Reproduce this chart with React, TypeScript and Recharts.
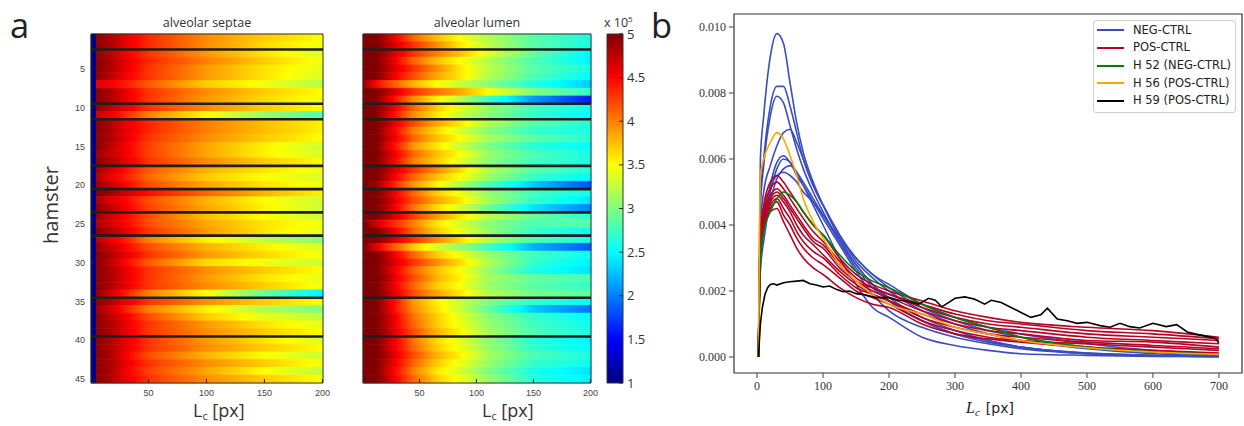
import React from 'react';
import {
  XAxis, YAxis, ReferenceLine, ReferenceArea,
  ComposedChart, Line, Legend,
} from 'recharts';

// ---------------- heatmap data (values in units of 1e5) ----------------
const LC_TICKS = [50, 100, 150, 200];
const HAMSTER_TICKS = [5, 10, 15, 20, 25, 30, 35, 40, 45];
const GROUP_BREAKS = [2.5, 9.5, 11.5, 17.5, 20.5, 23.5, 26.5, 34.5, 39.5];
const CBAR_TICKS = [1, 1.5, 2, 2.5, 3, 3.5, 4, 4.5, 5];

// first columns of the septae map (dark blue strip)
const SEPTAE_EDGE_L = [1, 4];
const SEPTAE_EDGE_VALUE = 1.0;
const SEPTAE_L = [5, 15, 30, 50, 100, 150, 200];
const SEPTAE_ROWS = [
  [4.95, 4.85, 4.6, 4.35, 3.95, 3.7, 3.5],
  [4.95, 4.85, 4.6, 4.35, 3.95, 3.65, 3.45],
  [4.95, 4.8, 4.55, 4.3, 3.9, 3.6, 3.35],
  [4.95, 4.85, 4.6, 4.35, 4.0, 3.7, 3.45],
  [4.95, 4.85, 4.6, 4.3, 3.9, 3.6, 3.4],
  [4.95, 4.8, 4.55, 4.3, 3.9, 3.6, 3.35],
  [4.6, 4.55, 4.4, 4.15, 3.7, 3.45, 3.2],
  [4.95, 4.85, 4.6, 4.3, 3.95, 3.7, 3.5],
  [4.95, 4.85, 4.6, 4.3, 3.9, 3.65, 3.45],
  [4.95, 4.8, 4.6, 4.3, 3.95, 3.7, 3.5],
  [4.7, 4.6, 4.35, 4.0, 3.5, 3.1, 2.8],
  [4.95, 4.85, 4.6, 4.35, 4.0, 3.75, 3.55],
  [4.95, 4.85, 4.6, 4.35, 4.0, 3.75, 3.55],
  [4.95, 4.85, 4.6, 4.3, 3.95, 3.7, 3.5],
  [4.95, 4.8, 4.55, 4.25, 3.85, 3.55, 3.3],
  [4.9, 4.75, 4.55, 4.25, 3.85, 3.55, 3.35],
  [4.95, 4.85, 4.6, 4.3, 3.95, 3.7, 3.5],
  [4.9, 4.7, 4.45, 4.15, 3.8, 3.6, 3.45],
  [4.8, 4.6, 4.4, 4.1, 3.7, 3.5, 3.35],
  [4.9, 4.75, 4.5, 4.2, 3.85, 3.6, 3.45],
  [5.0, 4.9, 4.7, 4.45, 4.1, 3.8, 3.55],
  [4.85, 4.65, 4.5, 4.2, 3.8, 3.5, 3.3],
  [4.95, 4.8, 4.55, 4.25, 3.85, 3.55, 3.3],
  [4.9, 4.7, 4.5, 4.2, 3.75, 3.5, 3.3],
  [4.8, 4.7, 4.5, 4.2, 3.85, 3.6, 3.45],
  [4.95, 4.85, 4.6, 4.3, 3.9, 3.6, 3.4],
  [4.8, 4.6, 4.4, 4.0, 3.55, 3.25, 3.0],
  [4.9, 4.75, 4.5, 4.2, 3.8, 3.55, 3.35],
  [4.95, 4.85, 4.6, 4.3, 3.9, 3.65, 3.45],
  [4.95, 4.8, 4.5, 4.15, 3.65, 3.45, 3.3],
  [4.95, 4.85, 4.6, 4.3, 3.95, 3.7, 3.5],
  [4.95, 4.85, 4.6, 4.3, 3.9, 3.6, 3.4],
  [4.95, 4.85, 4.6, 4.3, 3.95, 3.7, 3.45],
  [4.95, 4.7, 4.4, 4.0, 3.5, 2.9, 2.45],
  [4.95, 4.85, 4.6, 4.3, 3.95, 3.7, 3.5],
  [4.9, 4.7, 4.4, 4.0, 3.55, 3.2, 3.0],
  [4.95, 4.8, 4.55, 4.2, 3.7, 3.4, 3.25],
  [4.95, 4.85, 4.6, 4.3, 3.9, 3.6, 3.4],
  [4.95, 4.85, 4.6, 4.3, 3.95, 3.7, 3.5],
  [4.95, 4.85, 4.6, 4.3, 3.9, 3.6, 3.35],
  [4.95, 4.85, 4.6, 4.3, 3.95, 3.7, 3.5],
  [4.95, 4.85, 4.55, 4.2, 3.8, 3.5, 3.3],
  [4.95, 4.85, 4.6, 4.3, 3.95, 3.7, 3.45],
  [4.95, 4.85, 4.55, 4.25, 3.85, 3.5, 3.25],
  [4.95, 4.85, 4.6, 4.3, 3.95, 3.7, 3.5],
];

const LUMEN_L = [1, 12, 20, 30, 45, 65, 85, 110, 150, 200];
const LUMEN_ROWS = [
  [5, 5, 4.8, 4.5, 4.1, 3.75, 3.5, 3.2, 2.85, 2.6],
  [5, 5, 4.85, 4.6, 4.3, 3.95, 3.6, 3.25, 2.85, 2.6],
  [5, 5, 4.85, 4.6, 4.3, 4.0, 3.75, 3.4, 2.9, 2.45],
  [5, 5, 4.8, 4.5, 4.1, 3.75, 3.5, 3.2, 2.8, 2.45],
  [5, 5, 4.85, 4.6, 4.3, 3.95, 3.6, 3.25, 2.85, 2.6],
  [5, 5, 4.8, 4.5, 4.2, 3.85, 3.6, 3.2, 2.8, 2.5],
  [4.9, 4.5, 4.3, 4.1, 3.8, 3.5, 3.3, 3.05, 2.65, 2.3],
  [5, 5, 4.85, 4.6, 4.3, 4.05, 3.85, 3.5, 3.0, 2.7],
  [5, 5, 4.7, 4.4, 3.95, 3.55, 3.25, 2.75, 2.1, 1.6],
  [5, 5, 4.8, 4.5, 4.1, 3.7, 3.4, 3.1, 2.75, 2.55],
  [5, 5, 4.7, 4.4, 3.95, 3.6, 3.3, 3.05, 2.7, 2.5],
  [5, 5, 4.85, 4.55, 4.2, 3.85, 3.6, 3.2, 2.85, 2.65],
  [5, 5, 4.75, 4.45, 4.0, 3.65, 3.35, 3.05, 2.7, 2.6],
  [5, 5, 4.8, 4.5, 4.1, 3.75, 3.5, 3.15, 2.85, 2.65],
  [5, 5, 4.7, 4.4, 3.9, 3.6, 3.3, 3.0, 2.65, 2.5],
  [5, 5, 4.8, 4.5, 4.1, 3.75, 3.5, 3.1, 2.8, 2.6],
  [5, 5, 4.75, 4.45, 4.0, 3.7, 3.4, 3.05, 2.75, 2.6],
  [5, 5, 4.85, 4.6, 4.3, 3.95, 3.65, 3.2, 2.85, 2.65],
  [5, 5, 4.8, 4.5, 4.1, 3.75, 3.5, 3.1, 2.7, 2.5],
  [5, 4.9, 4.6, 4.3, 3.9, 3.55, 3.2, 2.8, 2.3, 1.8],
  [5, 5, 4.8, 4.5, 4.1, 3.7, 3.45, 3.1, 2.75, 2.55],
  [5, 5, 4.85, 4.55, 4.2, 3.85, 3.6, 3.15, 2.7, 2.4],
  [5, 5, 4.8, 4.5, 4.05, 3.65, 3.35, 2.95, 2.4, 2.0],
  [5, 5, 4.85, 4.6, 4.25, 3.9, 3.6, 3.25, 2.9, 2.7],
  [5, 4.7, 4.5, 4.3, 4.0, 3.6, 3.35, 3.05, 2.8, 2.85],
  [5, 5, 4.8, 4.5, 4.1, 3.7, 3.45, 3.1, 2.7, 2.55],
  [5, 5, 4.85, 4.6, 4.3, 3.95, 3.65, 3.2, 2.8, 2.6],
  [5, 4.6, 4.35, 4.1, 3.7, 3.35, 3.1, 2.75, 2.2, 1.85],
  [5, 5, 4.8, 4.5, 4.1, 3.7, 3.45, 3.1, 2.75, 2.55],
  [5, 5, 4.85, 4.6, 4.3, 3.95, 3.65, 3.2, 2.7, 2.45],
  [5, 5, 4.8, 4.5, 4.1, 3.75, 3.5, 3.1, 2.6, 2.4],
  [5, 5, 4.85, 4.55, 4.2, 3.8, 3.55, 3.15, 2.9, 2.8],
  [5, 5, 4.8, 4.5, 4.1, 3.7, 3.5, 3.1, 2.85, 2.7],
  [5, 5, 4.85, 4.55, 4.2, 3.85, 3.6, 3.2, 2.95, 2.85],
  [5, 5, 4.75, 4.4, 3.9, 3.55, 3.3, 3.0, 2.7, 2.5],
  [5, 5, 4.75, 4.4, 3.95, 3.6, 3.3, 2.9, 2.3, 1.95],
  [5, 5, 4.8, 4.5, 4.05, 3.7, 3.4, 3.05, 2.7, 2.5],
  [5, 5, 4.8, 4.5, 4.1, 3.7, 3.45, 3.1, 2.75, 2.55],
  [5, 5, 4.85, 4.55, 4.2, 3.8, 3.55, 3.15, 2.8, 2.6],
  [5, 5, 4.8, 4.5, 4.05, 3.65, 3.4, 3.05, 2.65, 2.45],
  [5, 5, 4.8, 4.5, 4.1, 3.7, 3.45, 3.1, 2.7, 2.5],
  [5, 5, 4.85, 4.55, 4.2, 3.8, 3.55, 3.15, 2.8, 2.6],
  [5, 5, 4.8, 4.5, 4.1, 3.7, 3.45, 3.1, 2.7, 2.55],
  [5, 5, 4.75, 4.45, 4.0, 3.6, 3.35, 3.0, 2.6, 2.4],
  [5, 5, 4.8, 4.5, 4.1, 3.7, 3.45, 3.1, 2.65, 2.45],
];

// ---------------- line chart data ----------------
const LC = [2, 5, 10, 20, 30, 40, 50, 60, 70, 85, 100, 125, 150, 175, 200, 250, 300, 350, 400, 500, 600, 700];
const NEG_1 = [0, 0.0060, 0.0073, 0.0091, 0.0098, 0.0095, 0.0083, 0.0071, 0.0062, 0.0053, 0.0046, 0.0036, 0.0028, 0.0022, 0.0018, 0.0012, 0.0008, 0.0005, 0.0003, 0.00012, 0.00005, 0.00002];
const NEG_2 = [0, 0.0048, 0.0060, 0.0076, 0.0082, 0.0082, 0.0076, 0.0068, 0.0060, 0.0052, 0.0046, 0.0037, 0.0029, 0.0024, 0.0020, 0.0014, 0.0010, 0.0007, 0.0005, 0.00025, 0.0001, 0.00005];
const NEG_3 = [0, 0.0045, 0.0058, 0.0073, 0.0079, 0.0077, 0.0070, 0.0063, 0.0057, 0.0050, 0.0044, 0.0035, 0.0027, 0.0021, 0.0017, 0.0011, 0.0007, 0.00045, 0.0003, 0.0001, 0.00004, 0.00002];
const NEG_4 = [0, 0.0040, 0.0050, 0.0058, 0.0064, 0.0068, 0.0069, 0.0065, 0.0060, 0.0052, 0.0046, 0.0037, 0.0030, 0.0025, 0.0021, 0.0015, 0.0011, 0.0008, 0.0006, 0.0003, 0.00015, 0.00008];
const NEG_5 = [0, 0.0030, 0.0040, 0.0052, 0.0059, 0.0061, 0.0059, 0.0056, 0.0053, 0.0048, 0.0043, 0.0035, 0.0028, 0.0022, 0.0017, 0.0011, 0.0007, 0.0005, 0.0003, 0.00012, 0.00005, 0.00002];
const NEG_6 = [0, 0.0028, 0.0038, 0.0050, 0.0057, 0.0060, 0.0059, 0.0055, 0.0052, 0.0047, 0.0042, 0.0034, 0.0026, 0.0019, 0.0014, 0.0009, 0.0006, 0.0004, 0.00025, 0.0001, 0.00004, 0.00002];
const NEG_7 = [0, 0.0026, 0.0035, 0.0047, 0.0054, 0.0057, 0.0058, 0.0056, 0.0052, 0.0046, 0.0040, 0.0030, 0.0022, 0.0015, 0.0012, 0.0006, 0.00035, 0.0002, 0.0001, 0.00005, 0.00002, 0.00001];
const NEG_8 = [0, 0.0032, 0.0042, 0.0051, 0.0055, 0.0056, 0.0055, 0.0053, 0.0050, 0.0047, 0.0043, 0.0036, 0.0030, 0.0025, 0.0022, 0.0016, 0.0012, 0.0009, 0.0007, 0.0004, 0.0002, 0.0001];
const POS_1 = [0, 0.0038, 0.0046, 0.0053, 0.0055, 0.0053, 0.0050, 0.0047, 0.0044, 0.0040, 0.0037, 0.0030, 0.0025, 0.0022, 0.0020, 0.0017, 0.0014, 0.0012, 0.00105, 0.0009, 0.0008, 0.0006];
const POS_2 = [0, 0.0037, 0.0045, 0.0051, 0.0053, 0.0051, 0.0048, 0.0045, 0.0042, 0.0038, 0.0035, 0.0029, 0.0024, 0.0021, 0.0019, 0.0016, 0.0013, 0.0011, 0.0010, 0.0008, 0.0007, 0.00055];
const POS_3 = [0, 0.0036, 0.0044, 0.0049, 0.0051, 0.0049, 0.0046, 0.0043, 0.0040, 0.0036, 0.0034, 0.0028, 0.0023, 0.0021, 0.0019, 0.0015, 0.0012, 0.0010, 0.0009, 0.0007, 0.0006, 0.0005];
const POS_4 = [0, 0.0035, 0.0043, 0.0048, 0.0050, 0.0048, 0.0045, 0.0042, 0.0039, 0.0035, 0.0033, 0.0027, 0.0023, 0.0020, 0.0018, 0.0014, 0.0011, 0.0009, 0.0008, 0.0006, 0.0005, 0.0004];
const POS_5 = [0, 0.0034, 0.0042, 0.0047, 0.0049, 0.0047, 0.0044, 0.0040, 0.0037, 0.0034, 0.0031, 0.0026, 0.0022, 0.0019, 0.0017, 0.0013, 0.0010, 0.0008, 0.0007, 0.0005, 0.00045, 0.0003];
const POS_6 = [0, 0.0033, 0.0041, 0.0046, 0.0048, 0.0045, 0.0042, 0.0038, 0.0035, 0.0032, 0.0030, 0.0025, 0.0021, 0.0019, 0.0017, 0.0012, 0.0009, 0.0007, 0.0006, 0.00045, 0.00035, 0.00025];
const POS_7 = [0, 0.0032, 0.0040, 0.0045, 0.0047, 0.0043, 0.0040, 0.0036, 0.0033, 0.0030, 0.0028, 0.0024, 0.0020, 0.0018, 0.0016, 0.0011, 0.0008, 0.0006, 0.0005, 0.0004, 0.0003, 0.0002];
const POS_8 = [0, 0.0031, 0.0039, 0.0044, 0.0045, 0.0041, 0.0037, 0.0033, 0.0030, 0.0027, 0.0025, 0.0021, 0.0018, 0.0016, 0.0015, 0.0010, 0.0007, 0.00055, 0.00045, 0.0003, 0.0002, 0.00012];
const H52 = [0, 0.0030, 0.0038, 0.0044, 0.0048, 0.0050, 0.0049, 0.0047, 0.0044, 0.0040, 0.0037, 0.0031, 0.0026, 0.0023, 0.0021, 0.0016, 0.0012, 0.0009, 0.0006, 0.0003, 0.00015, 0.00007];
const H56 = [0, 0.0055, 0.0060, 0.0065, 0.0068, 0.0066, 0.0061, 0.0055, 0.0048, 0.0041, 0.0036, 0.0028, 0.0023, 0.0019, 0.0016, 0.0013, 0.0009, 0.0007, 0.0005, 0.00028, 0.00015, 0.00008];
const H59_L = [2, 5, 8, 12, 16, 20, 25, 30, 40, 50, 60, 70, 80, 90, 100, 110, 120, 130, 140, 150, 165, 180, 200, 215, 230, 245, 260, 270, 280, 290, 300, 315, 330, 345, 355, 370, 385, 400, 415, 430, 440, 455, 470, 485, 500, 520, 535, 550, 565, 580, 600, 620, 636, 652, 670, 694, 700];
const H59 = [0, 0.0010, 0.0015, 0.0019, 0.0021, 0.0022, 0.00222, 0.00218, 0.00225, 0.00228, 0.0023, 0.00232, 0.00222, 0.00218, 0.00212, 0.00215, 0.00205, 0.00198, 0.0020, 0.00192, 0.00188, 0.0018, 0.0018, 0.00172, 0.00168, 0.0016, 0.00178, 0.00172, 0.00152, 0.00165, 0.00178, 0.00182, 0.00175, 0.0016, 0.00172, 0.00165, 0.0015, 0.00135, 0.0012, 0.00128, 0.00148, 0.00115, 0.0011, 0.00102, 0.00105, 0.00095, 0.0009, 0.00102, 0.00092, 0.00088, 0.00102, 0.00092, 0.00098, 0.00076, 0.00067, 0.00058, 0.00042];

const NEG_CTRL = [NEG_1, NEG_2, NEG_3, NEG_4, NEG_5, NEG_6, NEG_7, NEG_8];
const POS_CTRL = [POS_1, POS_2, POS_3, POS_4, POS_5, POS_6, POS_7, POS_8];
const LINE_X_TICKS = [0, 100, 200, 300, 400, 500, 600, 700];
const LINE_Y_TICKS = [0, 0.002, 0.004, 0.006, 0.008, 0.010];
const LEGEND_NAMES = ['NEG-CTRL', 'POS-CTRL', 'H 52 (NEG-CTRL)', 'H 56 (POS-CTRL)', 'H 59 (POS-CTRL)'];

// ---------------- styling ----------------
const BLUE = '#3b4cc0';
const RED = '#b40426';
const GREEN = '#008000';
const ORANGE = '#ffa500';
const BLACK = '#000000';
const LEGEND_COLORS = [BLUE, RED, GREEN, ORANGE, BLACK];

const VMIN = 1;
const VMAX = 5;
function jet(v: number) {
  const t = Math.min(1, Math.max(0, (v - VMIN) / (VMAX - VMIN)));
  const c = (x: number) => Math.round(255 * Math.min(1, Math.max(0, x)));
  return `rgb(${c(1.5 - Math.abs(4 * t - 3))},${c(1.5 - Math.abs(4 * t - 2))},${c(1.5 - Math.abs(4 * t - 1))})`;
}
const JET_BREAKS = [1.5, 2.5, 3.5, 4.5];

type Stop = { o: number; c: string };
function buildStops(ls: number[], vs: number[], x0: number, x1: number): Stop[] {
  const off = (l: number) => (l - x0) / (x1 - x0);
  const stops: Stop[] = [];
  for (let i = 0; i < ls.length; i++) {
    if (i > 0) {
      const va = vs[i - 1];
      const vb = vs[i];
      const bs = JET_BREAKS.filter((b) => (b - va) * (b - vb) < 0).sort((p, q) => (va > vb ? q - p : p - q));
      for (const b of bs) {
        const l = ls[i - 1] + ((ls[i] - ls[i - 1]) * (b - va)) / (vb - va);
        stops.push({ o: off(l), c: jet(b) });
      }
    }
    stops.push({ o: off(ls[i]), c: jet(vs[i]) });
  }
  return stops;
}

const X0 = 0.5;
const X1 = 200.5;
const R0 = 0.5;
const R1 = 45.5;
const HEAT_EXTENT = [{ x: X0, y: R0 }, { x: X1, y: R1 }];
const AXW = 30;
const RM = 14;
const PH = 349;
const PLOT_TOP = 34;

function Heatmap(props: { id: string; ls: number[]; rows: number[][]; plotLeft: number; plotW: number; edge: boolean; labels: boolean }) {
  const { id, ls, rows, plotLeft, plotW, edge, labels } = props;
  const leftTick = (p: any) => (
    <g>
      {labels && (
        <text x={p.x} y={p.y} dy="0.35em" textAnchor="end" fontSize={9} fill="#444" fontFamily="Liberation Sans, Arial">{p.payload.value}</text>
      )}
      <line x1={p.x + 6} x2={p.x + 10} y1={p.y} y2={p.y} stroke="#222" />
    </g>
  );
  const bottomTick = (p: any) => (
    <g>
      <text x={p.x} y={p.y} dy="0.75em" textAnchor="middle" fontSize={9} fill="#444" fontFamily="Liberation Sans, Arial">{p.payload.value}</text>
      <line x1={p.x} x2={p.x} y1={p.y - 6} y2={p.y - 10} stroke="#222" />
    </g>
  );
  const topTick = (p: any) => <line x1={p.x} x2={p.x} y1={p.y} y2={p.y + 4} stroke="#222" />;
  const rightTick = (p: any) => <line x1={p.x - 4} x2={p.x} y1={p.y} y2={p.y} stroke="#222" />;
  const edgeOff = (SEPTAE_EDGE_L[1] + 0.5 - X0) / (X1 - X0);
  return (
    <div style={{ position: 'absolute', left: plotLeft - AXW, top: PLOT_TOP - 1 }}>
      <ComposedChart width={AXW + plotW + RM} height={1 + PH + 24} data={HEAT_EXTENT} margin={{ top: 1, right: RM, bottom: 0, left: 0 }}>
        <defs>
          {rows.map((vals, i) => {
            const pre: Stop[] = edge
              ? [
                  { o: 0, c: jet(SEPTAE_EDGE_VALUE) },
                  { o: edgeOff, c: jet(SEPTAE_EDGE_VALUE) },
                  { o: edgeOff, c: jet(vals[0]) },
                ]
              : [];
            const stops = pre.concat(buildStops(ls, vals, X0, X1));
            return (
              <linearGradient key={i} id={`${id}-${i}`} x1="0" y1="0" x2="1" y2="0">
                {stops.map((s, k) => (
                  <stop key={k} offset={s.o} stopColor={s.c} />
                ))}
              </linearGradient>
            );
          })}
        </defs>
        <XAxis xAxisId="b" dataKey="x" type="number" domain={[X0, X1]} ticks={LC_TICKS} allowDataOverflow height={24} tickSize={0} tickMargin={6} axisLine={false} tickLine={false} tick={bottomTick} interval={0} />
        <XAxis xAxisId="t" dataKey="x" orientation="top" type="number" domain={[X0, X1]} ticks={LC_TICKS} allowDataOverflow height={0} tickSize={0} tickMargin={0} axisLine={false} tickLine={false} tick={topTick} interval={0} />
        <YAxis yAxisId="num" type="number" domain={[R0, R1]} reversed ticks={HAMSTER_TICKS} allowDataOverflow width={AXW} tickSize={0} tickMargin={6} axisLine={false} tickLine={false} tick={leftTick} interval={0} />
        <YAxis yAxisId="r" orientation="right" type="number" domain={[R0, R1]} reversed ticks={HAMSTER_TICKS} allowDataOverflow width={0} tickSize={0} tickMargin={0} axisLine={false} tickLine={false} tick={rightTick} interval={0} />
        <Line xAxisId="b" yAxisId="num" dataKey="y" stroke="none" dot={false} activeDot={false} isAnimationActive={false} />
        <Line xAxisId="t" yAxisId="r" dataKey="y" stroke="none" dot={false} activeDot={false} isAnimationActive={false} />
        {rows.map((_, i) => (
          <ReferenceArea
            key={`row${i}`}
            xAxisId="b"
            yAxisId="num"
            x1={X0}
            x2={X1}
            y1={i + 0.5}
            y2={i + 1.5}
            fill={`url(#${id}-${i})`}
            fillOpacity={1}
            stroke={`url(#${id}-${i})`}
            strokeWidth={0.8}
            ifOverflow="visible"
          />
        ))}
        {GROUP_BREAKS.map((b) => (
          <ReferenceLine key={b} xAxisId="b" yAxisId="num" y={b} stroke="#1e1e1e" strokeWidth={2.6} />
        ))}
        <ReferenceArea xAxisId="b" yAxisId="num" x1={X0} x2={X1} y1={R0} y2={R1} fill="none" stroke="#333" strokeWidth={1} ifOverflow="visible" />
      </ComposedChart>
    </div>
  );
}

const CBAR_EXTENT = [{ x: 0, v: VMIN }, { x: 1, v: VMAX }];
function ColorBar() {
  const tick = (p: any) => (
    <g>
      <line x1={p.x - 4} x2={p.x - 8} y1={p.y} y2={p.y} stroke="#222" />
      <text x={p.x} y={p.y} dy="0.35em" textAnchor="start" fontSize={13} fill="#333" fontFamily="Open Sans, Liberation Sans">{p.payload.value}</text>
    </g>
  );
  return (
    <div style={{ position: 'absolute', left: 606, top: PLOT_TOP - 8 }}>
      <ComposedChart width={1 + 16 + 40} height={8 + PH + 8} data={CBAR_EXTENT} margin={{ top: 8, right: 0, bottom: 8, left: 1 }}>
        <defs>
          <linearGradient id="jetbar" x1="0" y1="0" x2="0" y2="1">
            {[5, 4.5, 3.5, 2.5, 1.5, 1].map((v) => (
              <stop key={v} offset={(VMAX - v) / (VMAX - VMIN)} stopColor={jet(v)} />
            ))}
          </linearGradient>
        </defs>
        <XAxis dataKey="x" type="number" domain={[0, 1]} allowDataOverflow hide />
        <YAxis orientation="right" type="number" domain={[VMIN, VMAX]} ticks={CBAR_TICKS} allowDataOverflow width={40} tickSize={0} tickMargin={4} axisLine={false} tickLine={false} tick={tick} interval={0} />
        <Line dataKey="v" stroke="none" dot={false} activeDot={false} isAnimationActive={false} />
        <ReferenceArea x1={0} x2={1} y1={VMIN} y2={VMAX} fill="url(#jetbar)" fillOpacity={1} stroke="#333" strokeWidth={1} ifOverflow="visible" />
      </ComposedChart>
    </div>
  );
}

const LINE_TABLE = LC.map((lc, i) => {
  const row: Record<string, number> = { lc };
  NEG_CTRL.forEach((s, k) => (row[`n${k}`] = s[i]));
  POS_CTRL.forEach((s, k) => (row[`p${k}`] = s[i]));
  row.h52 = H52[i];
  row.h56 = H56[i];
  return row;
});
const H59_TABLE = H59_L.map((lc, i) => ({ lc, h59: H59[i] }));
const Y_MIN = -0.000485;
const Y_MAX = 0.010394;

function LegendBox() {
  return (
    <div style={{ width: 143, height: 93, boxSizing: 'border-box', border: '1px solid #d0d0d0', borderRadius: 3, background: 'rgba(255,255,255,0.9)' }}>
      {LEGEND_NAMES.map((n, i) => (
        <div key={n} style={{ height: 17.7, display: 'flex', alignItems: 'center', marginTop: i === 0 ? 0.5 : 0 }}>
          <div style={{ width: 27, height: 2, background: LEGEND_COLORS[i], marginLeft: 3, marginRight: 9 }} />
          <span style={{ fontFamily: 'DejaVu Sans, sans-serif', fontSize: 11.5, color: '#222', lineHeight: 1 }}>{n}</span>
        </div>
      ))}
    </div>
  );
}

function LineChartPanel() {
  const serif = 'Liberation Serif, Times New Roman, serif';
  return (
    <div style={{ position: 'absolute', left: 674, top: 13 }}>
      <ComposedChart width={571} height={390} data={LINE_TABLE} margin={{ top: 1, right: 3, bottom: 0, left: 0 }}>
        <XAxis dataKey="lc" type="number" domain={[-35, 735]} ticks={LINE_X_TICKS} allowDataOverflow height={30} tickSize={5} tickMargin={3} axisLine={false} tickLine={{ stroke: '#444' }} tick={{ fontSize: 12, fill: '#333', fontFamily: serif }} interval={0} />
        <YAxis type="number" domain={[Y_MIN, Y_MAX]} ticks={LINE_Y_TICKS} allowDataOverflow width={60} tickSize={5} tickMargin={3} axisLine={false} tickLine={{ stroke: '#444' }} tick={{ fontSize: 12, fill: '#333', fontFamily: serif }} tickFormatter={(v: number) => v.toFixed(3)} interval={0} />
        {NEG_CTRL.map((_, k) => (
          <Line key={`n${k}`} dataKey={`n${k}`} type="monotone" stroke={BLUE} strokeWidth={1.6} dot={false} isAnimationActive={false} legendType="none" />
        ))}
        {POS_CTRL.map((_, k) => (
          <Line key={`p${k}`} dataKey={`p${k}`} type="monotone" stroke={RED} strokeWidth={1.6} dot={false} isAnimationActive={false} legendType="none" />
        ))}
        <Line dataKey="h52" type="monotone" stroke={GREEN} strokeWidth={1.6} dot={false} isAnimationActive={false} legendType="none" />
        <Line dataKey="h56" type="monotone" stroke={ORANGE} strokeWidth={1.6} dot={false} isAnimationActive={false} legendType="none" />
        <Line data={H59_TABLE} dataKey="h59" type="linear" stroke={BLACK} strokeWidth={1.6} dot={false} isAnimationActive={false} legendType="none" />
        <ReferenceArea x1={-35} x2={735} y1={Y_MIN} y2={Y_MAX} fill="none" stroke="#333" strokeWidth={1.2} />
        <Legend layout="horizontal" verticalAlign="middle" align="center" content={() => <LegendBox />} wrapperStyle={{ top: 7, left: 419, width: 143, height: 93 }} />
      </ComposedChart>
    </div>
  );
}

function Annotations() {
  const sans = 'Open Sans, Liberation Sans, sans-serif';
  return (
    <svg width={1244} height={426} style={{ position: 'absolute', left: 0, top: 0, pointerEvents: 'none' }}>
      <text x={10} y={38} fontSize={34.5} fill="#222" fontFamily={sans}>a</text>
      <text x={651} y={38} fontSize={34.5} fill="#222" fontFamily={sans}>b</text>
      <text x={207} y={27} fontSize={12.5} fill="#333" textAnchor="middle" fontFamily={sans}>alveolar septae</text>
      <text x={477} y={27} fontSize={12.5} fill="#333" textAnchor="middle" fontFamily={sans}>alveolar lumen</text>
      <text x={604} y={27} fontSize={12.5} fill="#333" fontFamily={sans}>
        x 10<tspan fontSize={8} dy={-5}>5</tspan>
      </text>
      <text x={58} y={205} fontSize={20} fill="#333" textAnchor="middle" fontFamily={sans} transform="rotate(-90 58 205)">hamster</text>
      <text x={193} y={417} fontSize={18} fill="#333" fontFamily={sans}>
        L<tspan fontSize={11} dy={3}>c</tspan><tspan dy={-3}> [px]</tspan>
      </text>
      <text x={482} y={417} fontSize={18} fill="#333" fontFamily={sans}>
        L<tspan fontSize={11} dy={3}>c</tspan><tspan dy={-3}> [px]</tspan>
      </text>
      <text x={966} y={413} fontSize={16} fill="#222" fontFamily="Liberation Serif, serif" fontStyle="italic">
        L<tspan fontSize={11} dy={3}>c</tspan>
        <tspan dy={-3} fontStyle="normal" fontFamily="DejaVu Sans, sans-serif" fontSize={14} dx={6}>[px]</tspan>
      </text>
    </svg>
  );
}

export default function App() {
  return (
    <div style={{ position: 'absolute', left: 0, top: 0, width: 1244, height: 426, background: '#fff', overflow: 'hidden' }}>
      <Heatmap id="sep" ls={SEPTAE_L} rows={SEPTAE_ROWS} plotLeft={91} plotW={232} edge labels />
      <Heatmap id="lum" ls={LUMEN_L} rows={LUMEN_ROWS} plotLeft={363} plotW={228} edge={false} labels={false} />
      <ColorBar />
      <LineChartPanel />
      <Annotations />
    </div>
  );
}
